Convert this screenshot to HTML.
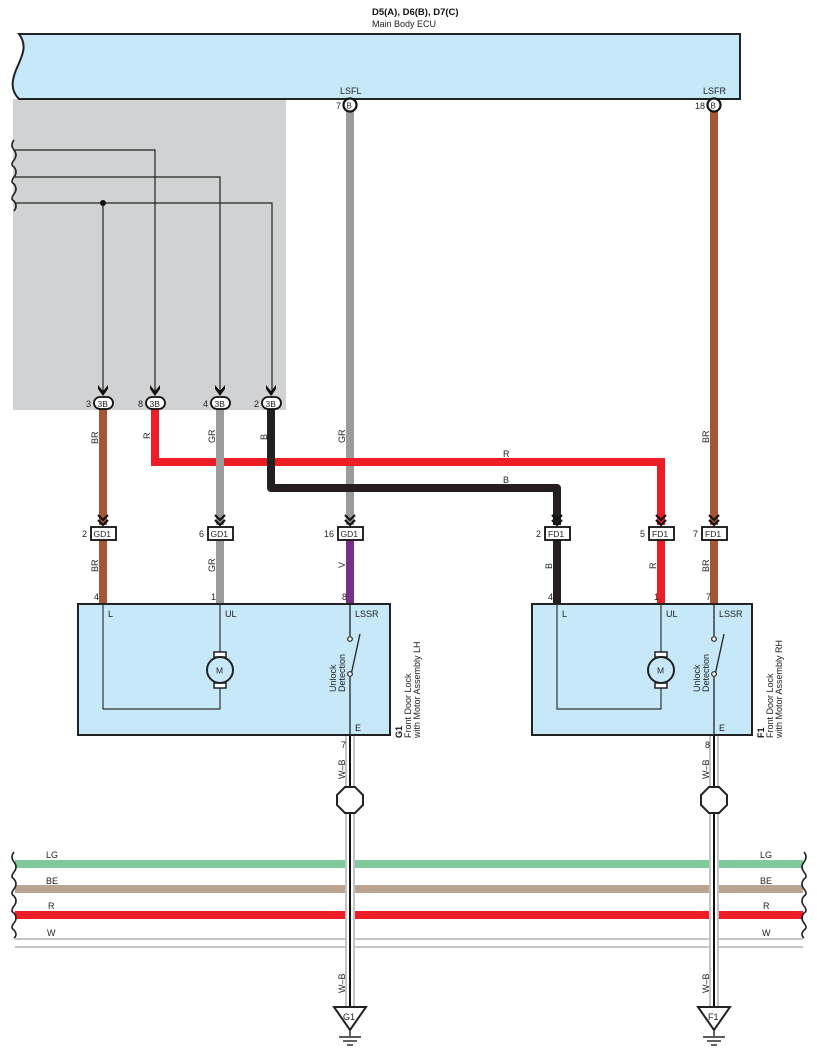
<!DOCTYPE html>
<html><head><meta charset="utf-8"><style>
html,body{margin:0;padding:0;background:#fff;}
svg{display:block;font-family:"Liberation Sans",Arial,sans-serif;}
.t{font-size:9px;fill:#222;}
</style></head><body>
<svg width="817" height="1061" viewBox="0 0 817 1061" xmlns="http://www.w3.org/2000/svg">
<defs>
<g id="chev"><path d="M-5,-9 L0,-4 L5,-9 M-5,-4 L0,1 L5,-4" fill="none" stroke="#111" stroke-width="2.2"/></g>
<g id="arr3"><path d="M-5,-12 L0,-6 L5,-12 L5,-8 L0,-1 L-5,-8Z" fill="#111"/></g>
</defs>
<text x="372" y="15" font-size="9.5" font-weight="bold" fill="#111">D5(A), D6(B), D7(C)</text>
<text x="372" y="27" font-size="9" fill="#222">Main Body ECU</text>
<rect x="13" y="99" width="273" height="311" fill="#d1d2d4"/>
<path d="M19,34 L740,34 L740,99 L19,99 C10,90 12,80 16,70 C22,56 28,46 19,34Z" fill="#c6e8f8" stroke="#222" stroke-width="2"/>
<text x="340" y="94" class="t">LSFL</text>
<text x="703" y="94" class="t">LSFR</text>
<path d="M14,140 q-4,5 0,10 q4,5 0,10 q-4,5 0,7 q4,5 0,10 q-4,5 0,7 q4,5 0,10 q-4,5 0,7 q4,5 0,10" fill="none" stroke="#222" stroke-width="1.6"/>
<path d="M15,150 H155 V395 M15,177 H220 V395 M15,203 H272 V395 M103,203 V395" fill="none" stroke="#222" stroke-width="1.2"/>
<circle cx="103" cy="203" r="3" fill="#111"/>
<rect x="346" y="111" width="8" height="414" fill="#9a9b9d"/>
<rect x="710" y="111" width="8" height="414" fill="#a65535"/>
<circle cx="350" cy="105" r="6.5" fill="#fff" stroke="#111" stroke-width="2.2"/><text x="346.5" y="108.5" font-size="8" fill="#222">B</text>
<circle cx="714" cy="105" r="6.5" fill="#fff" stroke="#111" stroke-width="2.2"/><text x="710.5" y="108.5" font-size="8" fill="#222">B</text>
<text x="336" y="109" class="t">7</text>
<text x="695" y="109" class="t">18</text>
<rect x="99" y="409" width="8" height="116" fill="#a65535"/>
<path d="M155,409 V462 H661 V525" fill="none" stroke="#ee1c25" stroke-width="8"/>
<rect x="216" y="409" width="8" height="116" fill="#9a9b9d"/>
<path d="M271,409 V488 H557 V525" fill="none" stroke="#231f20" stroke-width="8" stroke-linejoin="round"/>
<g>
<use href="#arr3" x="103" y="397"/><use href="#arr3" x="155" y="397"/><use href="#arr3" x="220" y="397"/><use href="#arr3" x="271" y="397"/>
<rect x="94" y="397" width="19" height="12" rx="6" fill="#fff" stroke="#111" stroke-width="1.8"/>
<rect x="146" y="397" width="19" height="12" rx="6" fill="#fff" stroke="#111" stroke-width="1.8"/>
<rect x="211" y="397" width="19" height="12" rx="6" fill="#fff" stroke="#111" stroke-width="1.8"/>
<rect x="262" y="397" width="19" height="12" rx="6" fill="#fff" stroke="#111" stroke-width="1.8"/>
<text x="97.5" y="407" font-size="8.5" fill="#222">3B</text>
<text x="149.5" y="407" font-size="8.5" fill="#222">3B</text>
<text x="214.5" y="407" font-size="8.5" fill="#222">3B</text>
<text x="265.5" y="407" font-size="8.5" fill="#222">3B</text>
<text x="86" y="407" class="t">3</text><text x="138" y="407" class="t">8</text><text x="203" y="407" class="t">4</text><text x="254" y="407" class="t">2</text>
</g>
<g class="t">
<text transform="translate(98,444) rotate(-90)">BR</text>
<text transform="translate(150,439) rotate(-90)">R</text>
<text transform="translate(215,443) rotate(-90)">GR</text>
<text transform="translate(267,440) rotate(-90)">B</text>
<text transform="translate(345,443) rotate(-90)">GR</text>
<text transform="translate(709,443) rotate(-90)">BR</text>
<text x="503" y="457">R</text>
<text x="503" y="483">B</text>
</g>
<rect x="99" y="540" width="8" height="64" fill="#a65535"/>
<rect x="216" y="540" width="8" height="64" fill="#9a9b9d"/>
<rect x="346" y="540" width="8" height="64" fill="#7b2d8e"/>
<rect x="553" y="540" width="8" height="64" fill="#231f20"/>
<rect x="657" y="540" width="8" height="64" fill="#ee1c25"/>
<rect x="710" y="540" width="8" height="64" fill="#a65535"/>
<g>
<use href="#chev" x="103" y="524"/><use href="#chev" x="220" y="524"/><use href="#chev" x="350" y="524"/>
<use href="#chev" x="557" y="524"/><use href="#chev" x="661" y="524"/><use href="#chev" x="714" y="524"/>
<g fill="#fff" stroke="#111" stroke-width="1.8">
<rect x="91" y="527" width="25" height="13"/><rect x="208" y="527" width="25" height="13"/><rect x="338" y="527" width="25" height="13"/>
<rect x="545" y="527" width="25" height="13"/><rect x="649" y="527" width="25" height="13"/><rect x="702" y="527" width="25" height="13"/>
</g>
<g font-size="8.5" fill="#222">
<text x="93.5" y="537">GD1</text><text x="210.5" y="537">GD1</text><text x="340.5" y="537">GD1</text>
<text x="548" y="537">FD1</text><text x="652" y="537">FD1</text><text x="705" y="537">FD1</text>
</g>
<g class="t">
<text x="82" y="537">2</text><text x="199" y="537">6</text><text x="324" y="537">16</text>
<text x="536" y="537">2</text><text x="640" y="537">5</text><text x="693" y="537">7</text>
</g>
</g>
<g class="t">
<text transform="translate(98,572) rotate(-90)">BR</text>
<text transform="translate(215,572) rotate(-90)">GR</text>
<text transform="translate(345,568) rotate(-90)">V</text>
<text transform="translate(552,569) rotate(-90)">B</text>
<text transform="translate(656,569) rotate(-90)">R</text>
<text transform="translate(709,572) rotate(-90)">BR</text>
<text x="94" y="600">4</text><text x="211" y="600">1</text><text x="342" y="600">8</text>
<text x="548" y="600">4</text><text x="654" y="600">1</text><text x="706" y="600">7</text>
</g>
<g>
<rect x="15" y="860" width="788" height="8" fill="#80c99a"/>
<rect x="15" y="885" width="788" height="8" fill="#baa48f"/>
<rect x="15" y="911" width="788" height="8" fill="#ee1c25"/>
<line x1="15" y1="939" x2="803" y2="939" stroke="#8a8a8a" stroke-width="1"/>
<line x1="15" y1="947" x2="803" y2="947" stroke="#8a8a8a" stroke-width="1"/>
<path d="M14,852 q-4,5 0,10 q4,5 0,10 q-4,5 0,7 q4,5 0,10 q-4,5 0,7 q4,5 0,10 q-4,5 0,7 q4,5 0,10 q-4,5 0,7 q4,5 0,8" fill="none" stroke="#222" stroke-width="1.6"/>
<path d="M804,852 q4,5 0,10 q-4,5 0,10 q4,5 0,7 q-4,5 0,10 q4,5 0,7 q-4,5 0,10 q4,5 0,7 q-4,5 0,10 q4,5 0,7 q-4,5 0,8" fill="none" stroke="#222" stroke-width="1.6"/>
<g class="t">
<text x="46" y="858">LG</text><text x="46" y="884">BE</text><text x="48" y="909">R</text><text x="47" y="936">W</text>
<text x="760" y="858">LG</text><text x="760" y="884">BE</text><text x="763" y="909">R</text><text x="762" y="936">W</text>
</g>
</g>
<g>
<rect x="345" y="735" width="10" height="272" fill="#fff"/>
<rect x="346" y="735" width="8" height="272" fill="#fff" stroke="#8a8a8a" stroke-width="1"/>
<line x1="350" y1="735" x2="350" y2="1007" stroke="#111" stroke-width="2"/>
<rect x="709" y="735" width="10" height="272" fill="#fff"/>
<rect x="710" y="735" width="8" height="272" fill="#fff" stroke="#8a8a8a" stroke-width="1"/>
<line x1="714" y1="735" x2="714" y2="1007" stroke="#111" stroke-width="2"/>
</g>
<polygon points="345,787 355,787 363,795 363,805 355,813 345,813 337,805 337,795" fill="#fff" stroke="#222" stroke-width="2"/>
<polygon points="709,787 719,787 727,795 727,805 719,813 709,813 701,805 701,795" fill="#fff" stroke="#222" stroke-width="2"/>
<g class="t">
<text transform="translate(345,779) rotate(-90)">W–B</text>
<text transform="translate(709,779) rotate(-90)">W–B</text>
<text transform="translate(345,993) rotate(-90)">W–B</text>
<text transform="translate(709,993) rotate(-90)">W–B</text>
<text x="341" y="748">7</text><text x="705" y="748">8</text>
</g>
<g fill="#fff" stroke="#222" stroke-width="2">
<polygon points="334,1007 366,1007 350,1030"/>
<polygon points="698,1007 730,1007 714,1030"/>
</g>
<g stroke="#222" stroke-width="1.4">
<line x1="350" y1="1030" x2="350" y2="1036"/><line x1="339" y1="1037" x2="361" y2="1037"/><line x1="343" y1="1041" x2="357" y2="1041"/><line x1="347" y1="1045" x2="353" y2="1045"/>
<line x1="714" y1="1030" x2="714" y2="1036"/><line x1="703" y1="1037" x2="725" y2="1037"/><line x1="707" y1="1041" x2="721" y2="1041"/><line x1="711" y1="1045" x2="717" y2="1045"/>
</g>
<text x="343" y="1020" font-size="9" fill="#222">G1</text>
<text x="708" y="1020" font-size="9" fill="#222">F1</text>
<rect x="78" y="604" width="312" height="131" fill="#c6e8f8" stroke="#222" stroke-width="2"/>
<path d="M103,604 V709 H220 V687 M220,604 V653" fill="none" stroke="#333" stroke-width="1.2"/>
<path d="M350,604 V636 M350,677 V735 M351,675 L360,634" fill="none" stroke="#222" stroke-width="1.3"/>
<circle cx="350" cy="639" r="2.3" fill="#fff" stroke="#222" stroke-width="1.2"/>
<circle cx="350" cy="674" r="2.3" fill="#fff" stroke="#222" stroke-width="1.2"/>
<rect x="214" y="652" width="12" height="5" fill="#fff" stroke="#222" stroke-width="1.5"/>
<rect x="214" y="683" width="12" height="5" fill="#fff" stroke="#222" stroke-width="1.5"/>
<circle cx="220" cy="670" r="13" fill="#c6e8f8" stroke="#222" stroke-width="2"/>
<text x="216" y="673.5" font-size="8.5" fill="#222">M</text>
<g class="t"><text x="108" y="617">L</text><text x="225" y="617">UL</text><text x="355" y="617">LSSR</text><text x="355" y="731">E</text>
<text transform="translate(336,692) rotate(-90)">Unlock</text><text transform="translate(345,692) rotate(-90)">Detection</text></g>
<text transform="translate(402,738) rotate(-90)" font-size="9" font-weight="bold" fill="#111">G1</text>
<text transform="translate(411,738) rotate(-90)" class="t">Front Door Lock</text>
<text transform="translate(420,738) rotate(-90)" class="t">with Motor Assembly LH</text>
<rect x="532" y="604" width="220" height="131" fill="#c6e8f8" stroke="#222" stroke-width="2"/>
<path d="M557,604 V709 H661 V687 M661,604 V653" fill="none" stroke="#333" stroke-width="1.2"/>
<path d="M714,604 V636 M714,677 V735 M715,675 L724,634" fill="none" stroke="#222" stroke-width="1.3"/>
<circle cx="714" cy="639" r="2.3" fill="#fff" stroke="#222" stroke-width="1.2"/>
<circle cx="714" cy="674" r="2.3" fill="#fff" stroke="#222" stroke-width="1.2"/>
<rect x="655" y="652" width="12" height="5" fill="#fff" stroke="#222" stroke-width="1.5"/>
<rect x="655" y="683" width="12" height="5" fill="#fff" stroke="#222" stroke-width="1.5"/>
<circle cx="661" cy="670" r="13" fill="#c6e8f8" stroke="#222" stroke-width="2"/>
<text x="657" y="673.5" font-size="8.5" fill="#222">M</text>
<g class="t"><text x="562" y="617">L</text><text x="666" y="617">UL</text><text x="719" y="617">LSSR</text><text x="719" y="731">E</text>
<text transform="translate(700,692) rotate(-90)">Unlock</text><text transform="translate(709,692) rotate(-90)">Detection</text></g>
<text transform="translate(764,738) rotate(-90)" font-size="9" font-weight="bold" fill="#111">F1</text>
<text transform="translate(773,738) rotate(-90)" class="t">Front Door Lock</text>
<text transform="translate(782,738) rotate(-90)" class="t">with Motor Assembly RH</text>
</svg>
</body></html>
